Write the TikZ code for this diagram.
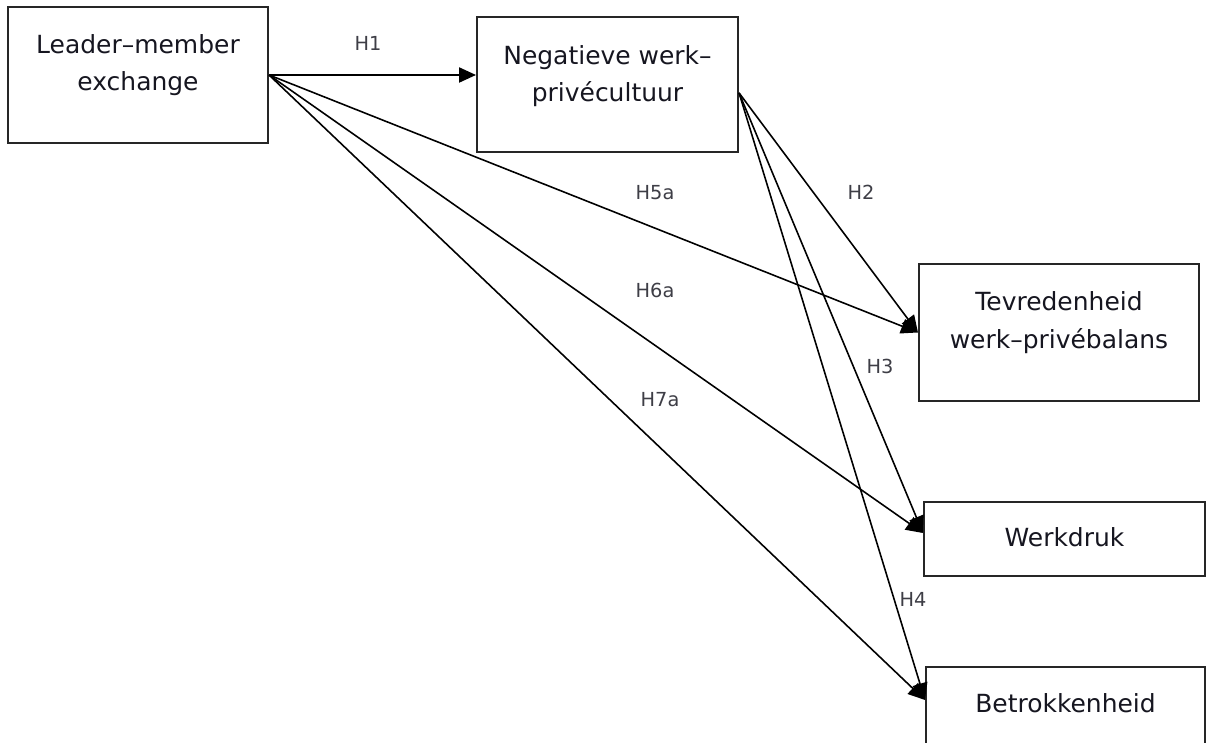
\documentclass[tikz,border=0pt]{standalone}
\usepackage{fontspec}
\setmainfont{DejaVu Sans}
\usepackage{tikz}
\usetikzlibrary{arrows.meta}
\usepackage{xcolor}
\definecolor{boxink}{RGB}{22,22,32}
\definecolor{labelgrey}{RGB}{62,62,70}

\begin{document}
\begin{tikzpicture}[x=0.01cm, y=-0.01cm,
    box/.style={draw=black!85, line width=0.55pt, inner sep=0pt},
    boxtext/.style={font=\fontsize{7.1}{10.6}\selectfont, text=boxink, align=center, inner sep=0pt},
    hyp/.style={font=\fontsize{5.5}{6.6}\selectfont, text=labelgrey, inner sep=0pt},
    link/.style={line width=0.45pt, -{Triangle[length=4.8pt,width=4.3pt]}}]
    \useasboundingbox (0,0) rectangle (1206,743);
    \clip (0,0) rectangle (1206,743);

    % ── Boxes ──────────────────────────────────────────────────────────
    \node[box, minimum width=2.60cm, minimum height=1.36cm] (lmx) at (138,75) {};
    \node[box, minimum width=2.61cm, minimum height=1.35cm] (nwc) at (607.5,84.5) {};
    \node[box, minimum width=2.80cm, minimum height=1.37cm] (tev) at (1059,332.5) {};
    \node[box, minimum width=2.81cm, minimum height=0.74cm] (wd) at (1064.5,539) {};
    \node[box, minimum width=2.79cm, minimum height=0.80cm] (bet) at (1065.5,707) {};

    % Box texts (set a bit above the middle, as in the source)
    \node[boxtext] (lmx-t) at (138,65) {Leader–member\\exchange};
    \node[boxtext] (nwc-t) at (607.5,76) {Negatieve werk–\\privécultuur};
    \node[boxtext] (tev-t) at (1059,322.5) {Tevredenheid\\werk–privébalans};
    \node[boxtext] (wd-t) at (1064.5,537) {Werkdruk};
    \node[boxtext] (bet-t) at (1065.5,703) {Betrokkenheid};

    % ── Paths from LMX ─────────────────────────────────────────────────
    \draw[link] (lmx.east) -- (lmx.east -| nwc.west);
    \draw[link] (lmx.east) -- (tev.west);
    \draw[link] (lmx.east) -- ([yshift=1.7pt]wd.west);
    \draw[link] (lmx.east) -- ([yshift=2pt]bet.west);

    % ── Paths from the work-life culture ───────────────────────────────
    \draw[link] ([yshift=-2.4pt]nwc.east) -- (tev.west);
    \draw[link] ([yshift=-2.4pt]nwc.east) -- ([yshift=1.7pt]wd.west);
    \draw[link] ([yshift=-2.4pt]nwc.east) -- ([yshift=2pt]bet.west);

    % Hypothesis labels
    \node[hyp] (h1) at (368,43) {H1};
    \node[hyp] (h2) at (861,192) {H2};
    \node[hyp] (h3) at (880,366) {H3};
    \node[hyp] (h4) at (913,599) {H4};
    \node[hyp] (h5a) at (655,193) {H5a};
    \node[hyp] (h6a) at (655,290) {H6a};
    \node[hyp] (h7a) at (660,400) {H7a};
\end{tikzpicture}
\end{document}
